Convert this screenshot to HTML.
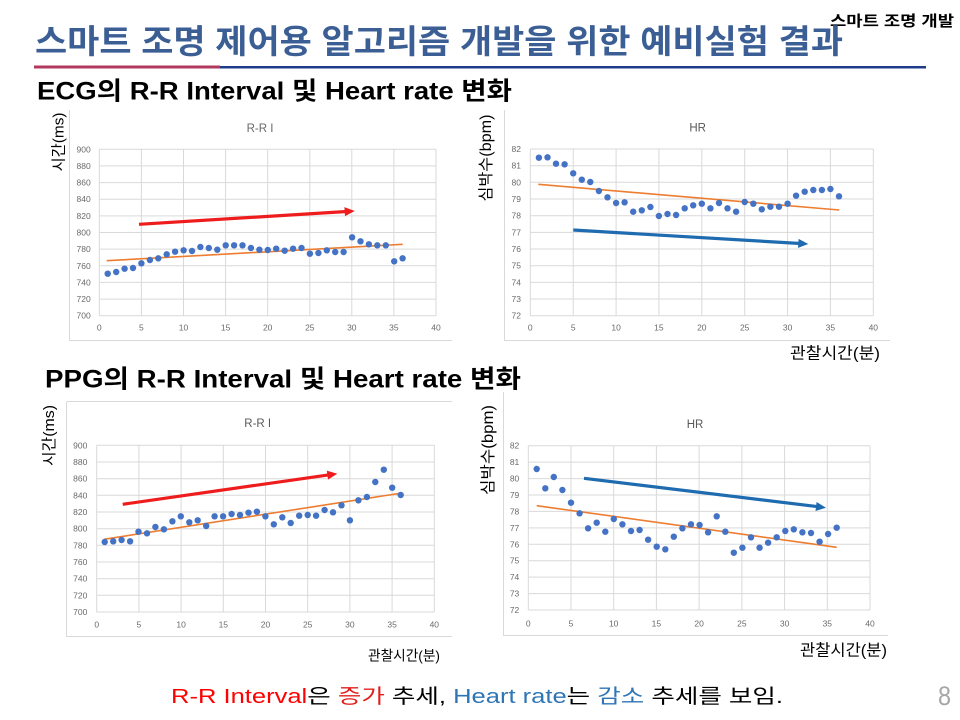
<!DOCTYPE html>
<html><head><meta charset="utf-8"><style>
html,body{margin:0;padding:0;background:#fff;}
svg{display:block;}
.k{font-family:"Liberation Sans","Noto Sans CJK KR",sans-serif;}
.t{font-family:"Liberation Sans",sans-serif;font-size:8.5px;fill:#6a6a6a;}
.g{stroke:#d9d9d9;stroke-width:1;fill:none;}
.b{stroke:#d9d9d9;stroke-width:1;fill:none;}
.d circle{fill:#4472C4;}
</style></head><body>
<svg width="960" height="720" viewBox="0 0 960 720" xmlns="http://www.w3.org/2000/svg">
<rect width="960" height="720" fill="#fff"/>
<!-- header -->
<text class="k" x="830" y="26" font-size="15" font-weight="bold" fill="#000" textLength="124" lengthAdjust="spacingAndGlyphs">스마트 조명 개발</text>
<text class="k" x="35" y="53" font-size="33" font-weight="bold" fill="#3B5E95" textLength="808" lengthAdjust="spacingAndGlyphs">스마트 조명 제어용 알고리즘 개발을 위한 예비실험 결과</text>
<rect x="34" y="65.5" width="186" height="3" fill="#B2385F"/>
<rect x="220" y="66" width="706" height="2.5" fill="#1F3C88"/>
<text class="k" x="37" y="99.5" font-size="25" font-weight="bold" fill="#000" textLength="475" lengthAdjust="spacingAndGlyphs">ECG의 R-R Interval 및 Heart rate 변화</text>
<text class="k" x="45" y="387.5" font-size="25" font-weight="bold" fill="#000" textLength="476" lengthAdjust="spacingAndGlyphs">PPG의 R-R Interval 및 Heart rate 변화</text>

<!-- ===== ECG RR ===== -->
<path class="b" d="M69.5 110V340.5H452"/>
<text class="t" x="260" y="132" font-size="11.5" text-anchor="middle" fill="#595959" style="font-size:11.5px">R-R I</text>
<path class="g" d="M99.3 315.7H436M99.3 299.1H436M99.3 282.4H436M99.3 265.8H436M99.3 249.1H436M99.3 232.5H436M99.3 215.9H436M99.3 199.2H436M99.3 182.6H436M99.3 165.9H436M99.3 149.3H436M99.3 149.3V315.7M141.4 149.3V315.7M183.5 149.3V315.7M225.6 149.3V315.7M267.7 149.3V315.7M309.8 149.3V315.7M351.8 149.3V315.7M393.9 149.3V315.7M436 149.3V315.7"/>
<g class="t" text-anchor="end">
<text x="90.7" y="318.7">700</text><text x="90.7" y="302.1">720</text><text x="90.7" y="285.4">740</text><text x="90.7" y="268.8">760</text><text x="90.7" y="252.1">780</text><text x="90.7" y="235.5">800</text><text x="90.7" y="218.9">820</text><text x="90.7" y="202.2">840</text><text x="90.7" y="185.6">860</text><text x="90.7" y="168.9">880</text><text x="90.7" y="152.3">900</text>
</g>
<g class="t" text-anchor="middle">
<text x="99.3" y="330.7">0</text><text x="141.4" y="330.7">5</text><text x="183.5" y="330.7">10</text><text x="225.6" y="330.7">15</text><text x="267.7" y="330.7">20</text><text x="309.8" y="330.7">25</text><text x="351.8" y="330.7">30</text><text x="393.9" y="330.7">35</text><text x="436" y="330.7">40</text>
</g>
<text class="k" transform="translate(58,142) rotate(-90)" y="5.5" font-size="15" text-anchor="middle" fill="#000" textLength="59" lengthAdjust="spacingAndGlyphs">시간(ms)</text>
<line x1="106.7" y1="260.7" x2="402.7" y2="244.3" stroke="#ED7D31" stroke-width="1.6"/>
<g class="d">
<circle cx="107.7" cy="273.7" r="3.2"/><circle cx="116.2" cy="272" r="3.2"/><circle cx="124.6" cy="268.7" r="3.2"/><circle cx="133" cy="268" r="3.2"/><circle cx="141.4" cy="263.3" r="3.2"/><circle cx="149.9" cy="260" r="3.2"/><circle cx="158.3" cy="258.3" r="3.2"/><circle cx="166.7" cy="254.3" r="3.2"/><circle cx="175.1" cy="251.7" r="3.2"/><circle cx="183.6" cy="250.3" r="3.2"/><circle cx="192" cy="251" r="3.2"/><circle cx="200.4" cy="247" r="3.2"/><circle cx="208.8" cy="248" r="3.2"/><circle cx="217.3" cy="249.7" r="3.2"/><circle cx="225.7" cy="245.3" r="3.2"/><circle cx="234.1" cy="245.3" r="3.2"/><circle cx="242.5" cy="245.3" r="3.2"/><circle cx="250.9" cy="248" r="3.2"/><circle cx="259.4" cy="249.7" r="3.2"/><circle cx="267.8" cy="250" r="3.2"/><circle cx="276.2" cy="248.7" r="3.2"/><circle cx="284.7" cy="250.7" r="3.2"/><circle cx="293.1" cy="248.7" r="3.2"/><circle cx="301.5" cy="248" r="3.2"/><circle cx="309.9" cy="253.7" r="3.2"/><circle cx="318.4" cy="253" r="3.2"/><circle cx="326.8" cy="250.3" r="3.2"/><circle cx="335.2" cy="252" r="3.2"/><circle cx="343.6" cy="252" r="3.2"/><circle cx="352.1" cy="237.3" r="3.2"/><circle cx="360.5" cy="241.3" r="3.2"/><circle cx="368.9" cy="244.3" r="3.2"/><circle cx="377.3" cy="245.3" r="3.2"/><circle cx="385.8" cy="245.3" r="3.2"/><circle cx="394.2" cy="261.3" r="3.2"/><circle cx="402.6" cy="258.3" r="3.2"/>
</g>
<line x1="139" y1="224.3" x2="346.7" y2="211.5" stroke="#EE1C1C" stroke-width="3.2"/>
<polygon points="354.7,211 345,216.1 344.4,207.1" fill="#EE1C1C"/>

<!-- ===== ECG HR ===== -->
<path class="b" d="M504.5 110V340.5H890"/>
<text class="k" x="697.7" y="131.7" font-size="11.5" text-anchor="middle" fill="#595959">HR</text>
<path class="g" d="M530.3 315.7H873.3M530.3 299H873.3M530.3 282.4H873.3M530.3 265.7H873.3M530.3 249H873.3M530.3 232.4H873.3M530.3 215.7H873.3M530.3 199H873.3M530.3 182.3H873.3M530.3 165.7H873.3M530.3 149H873.3M530.3 149V315.7M573.2 149V315.7M616.1 149V315.7M658.9 149V315.7M701.8 149V315.7M744.7 149V315.7M787.6 149V315.7M830.4 149V315.7M873.3 149V315.7"/>
<g class="t" text-anchor="end">
<text x="521" y="318.7">72</text><text x="521" y="302">73</text><text x="521" y="285.4">74</text><text x="521" y="268.7">75</text><text x="521" y="252">76</text><text x="521" y="235.4">77</text><text x="521" y="218.7">78</text><text x="521" y="202">79</text><text x="521" y="185.3">80</text><text x="521" y="168.7">81</text><text x="521" y="152">82</text>
</g>
<g class="t" text-anchor="middle">
<text x="530.3" y="330.7">0</text><text x="573.2" y="330.7">5</text><text x="616.1" y="330.7">10</text><text x="658.9" y="330.7">15</text><text x="701.8" y="330.7">20</text><text x="744.7" y="330.7">25</text><text x="787.6" y="330.7">30</text><text x="830.4" y="330.7">35</text><text x="873.3" y="330.7">40</text>
</g>
<text class="k" transform="translate(485.5,158) rotate(-90)" y="5.7" font-size="15.5" text-anchor="middle" fill="#000" textLength="87" lengthAdjust="spacingAndGlyphs">심박수(bpm)</text>
<text class="k" x="790" y="358.5" font-size="16" fill="#000" textLength="90" lengthAdjust="spacingAndGlyphs">관찰시간(분)</text>
<line x1="538.3" y1="184.3" x2="839.3" y2="210" stroke="#ED7D31" stroke-width="1.6"/>
<g class="d">
<circle cx="538.9" cy="157.7" r="3.2"/><circle cx="547.5" cy="157.3" r="3.2"/><circle cx="556" cy="163.7" r="3.2"/><circle cx="564.6" cy="164.3" r="3.2"/><circle cx="573.2" cy="173.3" r="3.2"/><circle cx="581.8" cy="179.7" r="3.2"/><circle cx="590.3" cy="182" r="3.2"/><circle cx="598.9" cy="191" r="3.2"/><circle cx="607.5" cy="197.3" r="3.2"/><circle cx="616.1" cy="203" r="3.2"/><circle cx="624.6" cy="202.3" r="3.2"/><circle cx="633.2" cy="211.7" r="3.2"/><circle cx="641.8" cy="210.3" r="3.2"/><circle cx="650.4" cy="207" r="3.2"/><circle cx="658.9" cy="216" r="3.2"/><circle cx="667.5" cy="214" r="3.2"/><circle cx="676.1" cy="215" r="3.2"/><circle cx="684.7" cy="208.3" r="3.2"/><circle cx="693.2" cy="205.3" r="3.2"/><circle cx="701.8" cy="203.7" r="3.2"/><circle cx="710.4" cy="208.3" r="3.2"/><circle cx="719" cy="203" r="3.2"/><circle cx="727.5" cy="208.3" r="3.2"/><circle cx="736.1" cy="211.7" r="3.2"/><circle cx="744.7" cy="202" r="3.2"/><circle cx="753.3" cy="203.7" r="3.2"/><circle cx="761.8" cy="209.3" r="3.2"/><circle cx="770.4" cy="206.7" r="3.2"/><circle cx="779" cy="206.7" r="3.2"/><circle cx="787.6" cy="203.7" r="3.2"/><circle cx="796.1" cy="195.7" r="3.2"/><circle cx="804.7" cy="191.7" r="3.2"/><circle cx="813.3" cy="190" r="3.2"/><circle cx="821.9" cy="190" r="3.2"/><circle cx="830.4" cy="189" r="3.2"/><circle cx="839" cy="196.3" r="3.2"/>
</g>
<line x1="573.3" y1="230" x2="800.3" y2="243.5" stroke="#1F6BB0" stroke-width="3.2"/>
<polygon points="808.3,244 798,247.9 798.6,238.9" fill="#1F6BB0"/>

<!-- ===== PPG RR ===== -->
<path class="b" d="M66.5 402V636.5H452M66.5 401.5H452"/>
<text class="k" x="257.7" y="427" font-size="11.5" text-anchor="middle" fill="#595959">R-R I</text>
<path class="g" d="M96.7 612H434.3M96.7 595.3H434.3M96.7 578.7H434.3M96.7 562H434.3M96.7 545.3H434.3M96.7 528.7H434.3M96.7 512H434.3M96.7 495.3H434.3M96.7 478.7H434.3M96.7 462H434.3M96.7 445.3H434.3M96.7 445.3V612M138.9 445.3V612M181.1 445.3V612M223.3 445.3V612M265.5 445.3V612M307.7 445.3V612M349.9 445.3V612M392.1 445.3V612M434.3 445.3V612"/>
<g class="t" text-anchor="end">
<text x="87.3" y="615">700</text><text x="87.3" y="598.3">720</text><text x="87.3" y="581.7">740</text><text x="87.3" y="565">760</text><text x="87.3" y="548.3">780</text><text x="87.3" y="531.7">800</text><text x="87.3" y="515">820</text><text x="87.3" y="498.3">840</text><text x="87.3" y="481.7">860</text><text x="87.3" y="465">880</text><text x="87.3" y="448.3">900</text>
</g>
<g class="t" text-anchor="middle">
<text x="96.7" y="627.3">0</text><text x="138.9" y="627.3">5</text><text x="181.1" y="627.3">10</text><text x="223.3" y="627.3">15</text><text x="265.5" y="627.3">20</text><text x="307.7" y="627.3">25</text><text x="349.9" y="627.3">30</text><text x="392.1" y="627.3">35</text><text x="434.3" y="627.3">40</text>
</g>
<text class="k" transform="translate(48.5,435.5) rotate(-90)" y="5.5" font-size="15" text-anchor="middle" fill="#000" textLength="61" lengthAdjust="spacingAndGlyphs">시간(ms)</text>
<text class="k" x="368" y="660.5" font-size="14" fill="#000" textLength="72" lengthAdjust="spacingAndGlyphs">관찰시간(분)</text>
<line x1="104" y1="539.3" x2="400" y2="493.3" stroke="#ED7D31" stroke-width="1.6"/>
<g class="d">
<circle cx="104.7" cy="542" r="3.2"/><circle cx="113.2" cy="541.3" r="3.2"/><circle cx="121.6" cy="540" r="3.2"/><circle cx="130.1" cy="541.3" r="3.2"/><circle cx="138.5" cy="531.7" r="3.2"/><circle cx="147" cy="533.3" r="3.2"/><circle cx="155.4" cy="527" r="3.2"/><circle cx="163.9" cy="529.3" r="3.2"/><circle cx="172.4" cy="521.3" r="3.2"/><circle cx="180.8" cy="516.3" r="3.2"/><circle cx="189.3" cy="522.3" r="3.2"/><circle cx="197.7" cy="520.3" r="3.2"/><circle cx="206.2" cy="526" r="3.2"/><circle cx="214.6" cy="516.3" r="3.2"/><circle cx="223.1" cy="516.3" r="3.2"/><circle cx="231.6" cy="514" r="3.2"/><circle cx="240" cy="515" r="3.2"/><circle cx="248.5" cy="512.7" r="3.2"/><circle cx="256.9" cy="511.7" r="3.2"/><circle cx="265.4" cy="516.3" r="3.2"/><circle cx="273.8" cy="524.3" r="3.2"/><circle cx="282.3" cy="517.3" r="3.2"/><circle cx="290.7" cy="523" r="3.2"/><circle cx="299.2" cy="515.7" r="3.2"/><circle cx="307.7" cy="515" r="3.2"/><circle cx="316.1" cy="515.7" r="3.2"/><circle cx="324.6" cy="510" r="3.2"/><circle cx="333" cy="512.3" r="3.2"/><circle cx="341.5" cy="505.3" r="3.2"/><circle cx="349.9" cy="520.3" r="3.2"/><circle cx="358.4" cy="500.3" r="3.2"/><circle cx="366.9" cy="497" r="3.2"/><circle cx="375.3" cy="482" r="3.2"/><circle cx="383.8" cy="469.7" r="3.2"/><circle cx="392.2" cy="487.7" r="3.2"/><circle cx="400.7" cy="495" r="3.2"/>
</g>
<line x1="122.7" y1="504.3" x2="329.4" y2="474.8" stroke="#EE1C1C" stroke-width="3.2"/>
<polygon points="337.3,473.7 328,479.6 326.8,470.6" fill="#EE1C1C"/>

<!-- ===== PPG HR ===== -->
<path class="b" d="M503.5 392V635.5H888"/>
<text class="k" x="695" y="428" font-size="11.5" text-anchor="middle" fill="#595959">HR</text>
<path class="g" d="M528.3 610H870M528.3 593.6H870M528.3 577.1H870M528.3 560.7H870M528.3 544.3H870M528.3 527.9H870M528.3 511.4H870M528.3 495H870M528.3 478.6H870M528.3 462.1H870M528.3 445.7H870M528.3 445.7V610M571 445.7V610M613.7 445.7V610M656.4 445.7V610M699.1 445.7V610M741.9 445.7V610M784.6 445.7V610M827.3 445.7V610M870 445.7V610"/>
<g class="t" text-anchor="end">
<text x="519.3" y="613">72</text><text x="519.3" y="596.6">73</text><text x="519.3" y="580.1">74</text><text x="519.3" y="563.7">75</text><text x="519.3" y="547.3">76</text><text x="519.3" y="530.9">77</text><text x="519.3" y="514.4">78</text><text x="519.3" y="498">79</text><text x="519.3" y="481.6">80</text><text x="519.3" y="465.1">81</text><text x="519.3" y="448.7">82</text>
</g>
<g class="t" text-anchor="middle">
<text x="528.3" y="626.3">0</text><text x="571" y="626.3">5</text><text x="613.7" y="626.3">10</text><text x="656.4" y="626.3">15</text><text x="699.1" y="626.3">20</text><text x="741.9" y="626.3">25</text><text x="784.6" y="626.3">30</text><text x="827.3" y="626.3">35</text><text x="870" y="626.3">40</text>
</g>
<text class="k" transform="translate(487.5,450) rotate(-90)" y="5.7" font-size="15.5" text-anchor="middle" fill="#000" textLength="90" lengthAdjust="spacingAndGlyphs">심박수(bpm)</text>
<text class="k" x="800" y="655.5" font-size="16" fill="#000" textLength="87" lengthAdjust="spacingAndGlyphs">관찰시간(분)</text>
<line x1="536.7" y1="505.7" x2="836.7" y2="547.3" stroke="#ED7D31" stroke-width="1.6"/>
<g class="d">
<circle cx="536.7" cy="469" r="3.2"/><circle cx="545.3" cy="488.3" r="3.2"/><circle cx="553.8" cy="477" r="3.2"/><circle cx="562.4" cy="490" r="3.2"/><circle cx="571" cy="502.7" r="3.2"/><circle cx="579.6" cy="513.3" r="3.2"/><circle cx="588.1" cy="528.3" r="3.2"/><circle cx="596.7" cy="522.7" r="3.2"/><circle cx="605.3" cy="531.7" r="3.2"/><circle cx="613.8" cy="519" r="3.2"/><circle cx="622.4" cy="524.3" r="3.2"/><circle cx="631" cy="531" r="3.2"/><circle cx="639.6" cy="530" r="3.2"/><circle cx="648.1" cy="539.7" r="3.2"/><circle cx="656.7" cy="546.7" r="3.2"/><circle cx="665.3" cy="549.3" r="3.2"/><circle cx="673.8" cy="536.7" r="3.2"/><circle cx="682.4" cy="528.3" r="3.2"/><circle cx="691" cy="524.3" r="3.2"/><circle cx="699.6" cy="525" r="3.2"/><circle cx="708.1" cy="532.3" r="3.2"/><circle cx="716.7" cy="516.3" r="3.2"/><circle cx="725.3" cy="531.7" r="3.2"/><circle cx="733.8" cy="552.7" r="3.2"/><circle cx="742.4" cy="547.7" r="3.2"/><circle cx="751" cy="537.3" r="3.2"/><circle cx="759.6" cy="547.7" r="3.2"/><circle cx="768.1" cy="542.7" r="3.2"/><circle cx="776.7" cy="537.3" r="3.2"/><circle cx="785.3" cy="531" r="3.2"/><circle cx="793.8" cy="529.3" r="3.2"/><circle cx="802.4" cy="532.3" r="3.2"/><circle cx="811" cy="533" r="3.2"/><circle cx="819.6" cy="541.7" r="3.2"/><circle cx="828.1" cy="534" r="3.2"/><circle cx="836.7" cy="527.7" r="3.2"/>
</g>
<line x1="584" y1="478.3" x2="818.1" y2="506.7" stroke="#1F6BB0" stroke-width="3.2"/>
<polygon points="826,507.7 815.5,511 816.6,502" fill="#1F6BB0"/>

<!-- bottom text -->
<text class="k" x="171" y="703" font-size="20" fill="#000" textLength="612" lengthAdjust="spacingAndGlyphs"><tspan fill="#FF0000">R-R Interval</tspan>은 <tspan fill="#E0201F">증가</tspan> 추세, <tspan fill="#2E75B6">Heart rate</tspan>는 <tspan fill="#2E75B6">감소</tspan> 추세를 보임.</text>
<text class="k" x="938" y="705" font-size="27" fill="#A6A6A6" textLength="13" lengthAdjust="spacingAndGlyphs">8</text>
</svg>
</body></html>
